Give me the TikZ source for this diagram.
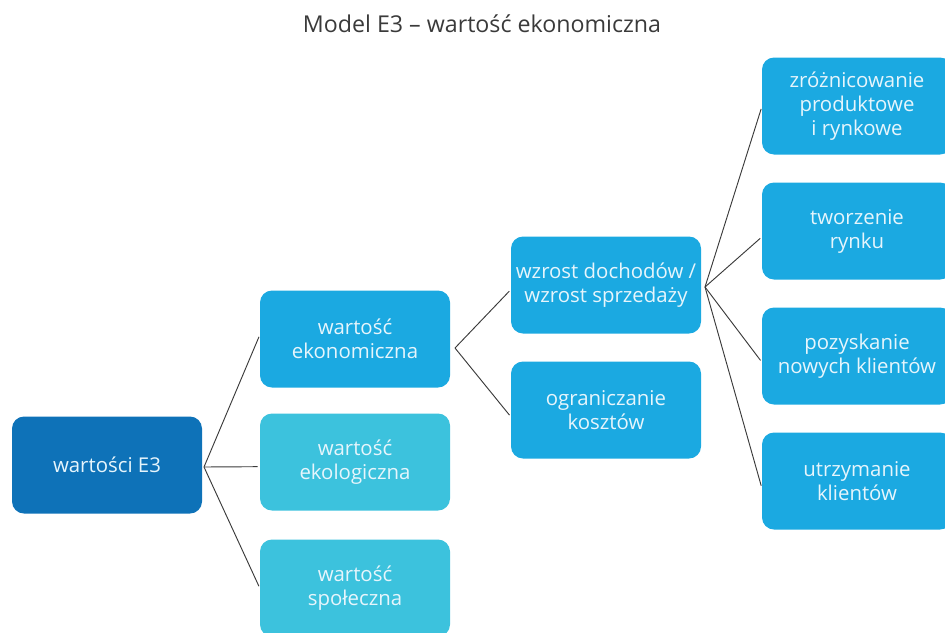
\documentclass[tikz,border=0pt]{standalone}
\usepackage{fontspec}
\setmainfont{Open Sans}
\definecolor{rootblue}{HTML}{0E72B8}
\definecolor{boxblue}{HTML}{1BA9E1}
\definecolor{boxcyan}{HTML}{3CC2DD}
\definecolor{boxtext}{HTML}{E6F5FC}
\definecolor{linegray}{HTML}{3A3A3A}

\begin{document}
\begin{tikzpicture}[x=0.75pt, y=-0.75pt,
    box/.style={rectangle, rounded corners=9pt, minimum width=142.5pt, minimum height=72.75pt,
        inner sep=0pt, align=center, text=boxtext, font=\fontsize{15.3}{18}\selectfont},
    link/.style={draw=linegray, line width=0.7pt, shorten >=1.5pt}]
    \useasboundingbox (0,0) rectangle (945,632);
    \clip (0,0) rectangle (945,632);

    \node[font=\fontsize{17.4}{20}\selectfont, text=linegray] (title)at(482, 24) {Model E3 – wartość ekonomiczna};

    % level 0
    \node[box, fill=rootblue] (root)at(107, 465) {wartości E3};
    % level 1
    \node[box, fill=boxblue] (econ)at(355, 339) {wartość\\ekonomiczna};
    \node[box, fill=boxcyan] (eco)at(355, 462) {wartość\\ekologiczna};
    \node[box, fill=boxcyan] (soc)at(355, 588) {wartość\\społeczna};
    % level 2
    \node[box, fill=boxblue] (income)at(606, 285) {wzrost dochodów /\\wzrost sprzedaży};
    \node[box, fill=boxblue] (costs)at(606, 410) {ograniczanie\\kosztów};
    % level 3
    \node[box, fill=boxblue] (diff)at(857, 106) {zróżnicowanie\\produktowe\\i rynkowe};
    \node[box, fill=boxblue] (market)at(857, 231) {tworzenie\\rynku};
    \node[box, fill=boxblue] (gain)at(857, 356) {pozyskanie\\nowych klientów};
    \node[box, fill=boxblue] (keep)at(857, 481) {utrzymanie\\klientów};

    \coordinate (rootfan)at(204, 467);
    \coordinate (econfan)at(455, 348);
    \coordinate (incomefan)at(705, 287);

    \draw[link] (rootfan) -- ([yshift=3pt]econ.west);
    \draw[link] (rootfan) -- ([yshift=-3.5pt]eco.west);
    \draw[link] (rootfan) -- (soc.west);
    \draw[link] (econfan) -- ([yshift=-3.5pt]income.west);
    \draw[link] (econfan) -- ([yshift=-5pt]costs.west);
    \draw[link] (incomefan) -- ([yshift=-0.75pt]diff.west);
    \draw[link] (incomefan) -- ([yshift=-4.5pt]market.west);
    \draw[link] (incomefan) -- ([yshift=-4.5pt]gain.west);
    \draw[link] (incomefan) -- ([yshift=-5pt]keep.west);
\end{tikzpicture}
\end{document}
